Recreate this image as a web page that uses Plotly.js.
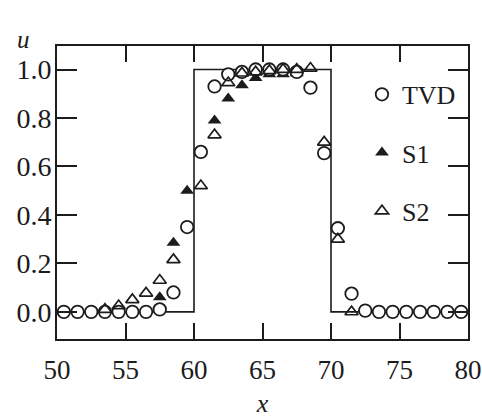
<!DOCTYPE html>
<html>
<head>
<meta charset="utf-8">
<script src="https://cdn.plot.ly/plotly-3.0.1.min.js"></script>
<style>html,body{margin:0;padding:0;background:#fff;}#chart{width:482px;height:418px;}</style>
</head>
<body>
<div id="chart"></div>
<script>
// Exact solution (square pulse)
const xExact = [50, 60, 60, 70, 70, 80];
const uExact = [0, 0, 1, 1, 0, 0];

// TVD scheme
const xTVD = [50.5,51.5,52.5,53.5,54.5,55.5,56.5,57.5,58.5,59.5,60.5,61.5,62.5,63.5,64.5,
              65.5,66.5,67.5,68.5,69.5,70.5,71.5,72.5,73.5,74.5,75.5,76.5,77.5,78.5,79.5];
const uTVD = [0,0,0,0,0,0,0,0.01,0.08,0.35,0.66,0.93,0.98,0.99,1.0,
              1.0,1.0,0.99,0.925,0.655,0.345,0.075,0.005,0,0,0,0,0,0,0];

// S1 scheme
const xS1 = [57.5,58.5,59.5,61.5,62.5,63.5,64.5,65.5,66.5,67.5];
const uS1 = [0.06,0.285,0.50,0.79,0.88,0.935,0.965,0.98,0.98,0.985];

// S2 scheme
const xS2 = [53.5,54.5,55.5,56.5,57.5,58.5,60.5,61.5,62.5,63.5,64.5,65.5,66.5,67.5,68.5,69.5,70.5,71.5];
const uS2 = [0.01,0.025,0.05,0.077,0.13,0.215,0.52,0.73,0.945,0.985,0.99,0.995,1.0,1.0,1.005,0.70,0.30,0.0];

const xTicks = [50,55,60,65,70,75,80];
const yTicks = [0,0.2,0.4,0.6,0.8,1.0];
const yTickText = ['0.0','0.2','0.4','0.6','0.8','1.0'];

const ink = '#1c1c1c';
const serif = 'Liberation Serif';

const traces = [
  {x: xExact, y: uExact, mode: 'lines', line: {color: ink, width: 1.6}, showlegend: false, hoverinfo: 'skip'},
  {x: xS1, y: uS1, mode: 'markers', name: 'S1', legendgroup: 'b', legendrank: 2,
   marker: {symbol: 'triangle-up', size: 12, color: ink, line: {width: 0}}},
  {x: xTVD, y: uTVD, mode: 'markers', name: 'TVD', legendgroup: 'a', legendrank: 1,
   marker: {symbol: 'circle', size: 12.5, color: '#ffffff', line: {color: ink, width: 1.8}}},
  {x: xS2, y: uS2, mode: 'markers', name: 'S2', legendgroup: 'c', legendrank: 3,
   marker: {symbol: 'triangle-up-open', size: 11.5, color: ink, line: {color: ink, width: 1.7}}}
];

const layout = {
  width: 482, height: 418,
  margin: {l: 57, r: 14, t: 46, b: 79},
  paper_bgcolor: '#fff', plot_bgcolor: '#fff',
  font: {family: serif, size: 26, color: ink},
  showlegend: true,
  legend: {x: 0.742, y: 0.915, xanchor: 'left', yanchor: 'top', bgcolor: 'rgba(0,0,0,0)',
           traceorder: 'grouped', tracegroupgap: 21.5, font: {family: serif, size: 26, color: ink}},
  xaxis: {
    range: [50, 80], tickvals: xTicks, ticktext: xTicks.map(String),
    ticks: 'inside', ticklen: 16, tickwidth: 2, tickcolor: ink,
    showline: true, linewidth: 2, linecolor: ink, mirror: 'ticks',
    showgrid: false, zeroline: false, ticklabelstandoff: 6,
    tickfont: {family: serif, size: 27, color: ink},
    title: {text: 'x', font: {family: serif, size: 26, color: ink, style: 'italic'}, standoff: 22}
  },
  yaxis: {
    range: [-0.112, 1.097], tickvals: yTicks, ticktext: yTickText,
    ticks: 'inside', ticklen: 20, tickwidth: 2, tickcolor: ink,
    showline: true, linewidth: 2, linecolor: ink, mirror: 'ticks',
    showgrid: false, zeroline: false, ticklabelstandoff: -2,
    tickfont: {family: serif, size: 28, color: ink}
  },
  annotations: [
    {text: 'u', xref: 'paper', yref: 'paper', x: (23 - 57) / 411, y: (339 - 40) / 293,
     xanchor: 'center', yanchor: 'middle', showarrow: false,
     font: {family: serif, size: 25, color: ink, style: 'italic'}}
  ]
};

Plotly.newPlot('chart', traces, layout, {displayModeBar: false, staticPlot: true});
</script>
</body>
</html>
